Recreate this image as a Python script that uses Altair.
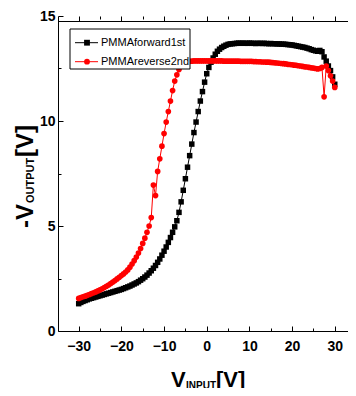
import altair as alt
import pandas as pd

# ---------------- data ----------------
x_v = [-30.0, -29.5, -29.0, -28.5, -28.0, -27.5, -27.0, -26.5, -26.0, -25.5,
       -25.0, -24.5, -24.0, -23.5, -23.0, -22.5, -22.0, -21.5, -21.0, -20.5,
       -20.0, -19.5, -19.0, -18.5, -18.0, -17.5, -17.0, -16.5, -16.0, -15.5,
       -15.0, -14.5, -14.0, -13.5, -13.0, -12.5, -12.0, -11.5, -11.0, -10.5,
       -10.0, -9.5, -9.0, -8.5, -8.0, -7.5, -7.0, -6.5, -6.0, -5.5,
       -5.0, -4.5, -4.0, -3.5, -3.0, -2.5, -2.0, -1.5, -1.0, -0.5,
       0.0, 0.5, 1.0, 1.5, 2.0, 2.5, 3.0, 3.5, 4.0, 4.5,
       5.0, 5.5, 6.0, 6.5, 7.0, 7.5, 8.0, 8.5, 9.0, 9.5,
       10.0, 10.5, 11.0, 11.5, 12.0, 12.5, 13.0, 13.5, 14.0, 14.5,
       15.0, 15.5, 16.0, 16.5, 17.0, 17.5, 18.0, 18.5, 19.0, 19.5,
       20.0, 20.5, 21.0, 21.5, 22.0, 22.5, 23.0, 23.5, 24.0, 24.5,
       25.0, 25.5, 26.0, 26.5, 27.0, 27.5, 28.0, 28.5, 29.0, 29.5,
       30.0]

forward_1st = [1.30, 1.36, 1.41, 1.45, 1.49, 1.53, 1.56, 1.59, 1.62, 1.65,
               1.68, 1.71, 1.74, 1.77, 1.80, 1.83, 1.86, 1.89, 1.92, 1.95,
               1.98, 2.02, 2.06, 2.10, 2.14, 2.19, 2.24, 2.29, 2.35, 2.42,
               2.49, 2.57, 2.66, 2.76, 2.87, 2.99, 3.12, 3.27, 3.43, 3.61,
               3.80, 4.00, 4.22, 4.45, 4.70, 4.96, 5.25, 5.65, 6.15, 6.70,
               7.25, 7.80, 8.35, 8.90, 9.45, 9.95, 10.45, 10.95, 11.40, 11.85,
               12.25, 12.55, 12.80, 13.00, 13.18, 13.32, 13.42, 13.50, 13.56, 13.61,
               13.65, 13.67, 13.68, 13.69, 13.70, 13.71, 13.70, 13.71, 13.70, 13.70,
               13.71, 13.70, 13.70, 13.69, 13.70, 13.70, 13.69, 13.70, 13.69, 13.68,
               13.69, 13.68, 13.68, 13.67, 13.67, 13.66, 13.66, 13.65, 13.64, 13.63,
               13.62, 13.60, 13.58, 13.56, 13.54, 13.52, 13.50, 13.47, 13.44, 13.40,
               13.37, 13.34, 13.32, 13.36, 13.30, 13.05, 12.85, 12.62, 12.40, 12.10,
               11.75]

reverse_2nd = [1.55, 1.59, 1.63, 1.66, 1.70, 1.74, 1.78, 1.82, 1.86, 1.91,
               1.96, 2.01, 2.07, 2.13, 2.19, 2.26, 2.33, 2.40, 2.48, 2.56,
               2.64, 2.72, 2.81, 2.91, 3.04, 3.19, 3.35, 3.52, 3.71, 3.93,
               4.17, 4.42, 4.70, 5.00, 5.40, 6.95, 6.45, 7.60, 8.20, 8.80,
               9.40, 9.95, 10.45, 10.95, 11.45, 11.90, 12.20, 12.45, 12.62, 12.72,
               12.78, 12.82, 12.84, 12.85, 12.86, 12.86, 12.86, 12.86, 12.86, 12.86,
               12.86, 12.86, 12.86, 12.86, 12.86, 12.86, 12.86, 12.86, 12.85, 12.85,
               12.85, 12.85, 12.85, 12.85, 12.85, 12.85, 12.84, 12.84, 12.84, 12.84,
               12.84, 12.84, 12.83, 12.83, 12.82, 12.82, 12.81, 12.81, 12.80, 12.80,
               12.79, 12.78, 12.77, 12.76, 12.75, 12.74, 12.73, 12.72, 12.70, 12.69,
               12.68, 12.66, 12.65, 12.63, 12.62, 12.60, 12.58, 12.57, 12.55, 12.53,
               12.52, 12.50, 12.48, 12.50, 12.55, 11.15, 12.62, 12.40, 12.15, 11.90,
               11.60]

series_names = ["PMMAforward1st", "PMMAreverse2nd"]
series_colors = ["#000000", "#ff0000"]

x_major = [-30, -20, -10, 0, 10, 20, 30]
x_minor = [-25, -15, -5, 5, 15, 25]
y_major = [0, 5, 10, 15]
y_minor = [2.5, 7.5, 12.5]

x_title = ["V", "INPUT", "[V]"]
y_title = ["-V", "OUTPUT", "[V]"]

# ---------------- chart ----------------
FONT = "Liberation Sans, Arial, Helvetica, sans-serif"

df_f = pd.DataFrame({"x": x_v, "y": forward_1st})
df_r = pd.DataFrame({"x": x_v, "y": reverse_2nd})
one = pd.DataFrame({"k": [0]})

xs = alt.Scale(domain=[-34.85, 33.1], nice=False, zero=False)
ys = alt.Scale(domain=[0, 15], nice=False, zero=False)


def tick_axis(orient, values, size, domain=False, color="black"):
    return alt.Axis(orient=orient, values=values, labels=False, domain=domain,
                    domainColor=color, ticks=True, tickSize=size, offset=-size,
                    tickColor="black", tickWidth=1, grid=False, title=None)


label_x = alt.Axis(orient="bottom", values=x_major, format="d", labels=True,
                   ticks=False, tickSize=0, domain=True, domainColor="black",
                   domainWidth=1, labelFont=FONT, labelFontSize=14,
                   labelFontWeight="bold", labelColor="black", labelPadding=8,
                   grid=False, title=None)
label_y = alt.Axis(orient="left", values=y_major, format="d", labels=True,
                   ticks=False, tickSize=0, domain=True, domainColor="black",
                   domainWidth=1, labelFont=FONT, labelFontSize=14,
                   labelFontWeight="bold", labelColor="black", labelPadding=3,
                   grid=False, title=None)

f_line = alt.Chart(df_f).mark_line(color=series_colors[0], strokeWidth=1).encode(
    x=alt.X("x:Q", scale=xs, axis=label_x),
    y=alt.Y("y:Q", scale=ys, axis=label_y),
)
f_pts = alt.Chart(df_f).mark_point(shape="square", filled=True, size=30,
                                   color=series_colors[0], opacity=1).encode(
    x=alt.X("x:Q", scale=xs, axis=tick_axis("bottom", x_major, 5)),
    y=alt.Y("y:Q", scale=ys, axis=tick_axis("left", y_major, 5)),
)
r_line = alt.Chart(df_r).mark_line(color=series_colors[1], strokeWidth=1).encode(
    x=alt.X("x:Q", scale=xs, axis=tick_axis("bottom", x_minor, 3)),
    y=alt.Y("y:Q", scale=ys, axis=tick_axis("left", y_minor, 3)),
)
r_pts = alt.Chart(df_r).mark_point(shape="circle", filled=True, size=32,
                                   color=series_colors[1], opacity=1).encode(
    x=alt.X("x:Q", scale=xs, axis=tick_axis("top", x_major, 5, domain=True)),
    y=alt.Y("y:Q", scale=ys, axis=alt.Axis(orient="right", labels=False, ticks=False,
                                            domain=True, domainColor="#b8b8b8",
                                            grid=False, title=None)),
)
frame_extra = alt.Chart(df_r).mark_point(opacity=0).encode(
    x=alt.X("x:Q", scale=xs, axis=tick_axis("top", x_minor, 3)),
    y=alt.Y("y:Q", scale=ys, axis=None),
)

# ---- legend (drawn by hand) ----
leg_box = alt.Chart(one).mark_rect(fill="white", stroke="black", strokeWidth=1).encode(
    x=alt.value(12), x2=alt.value(132), y=alt.value(13), y2=alt.value(53))
leg_layers = [leg_box]
for i, (name, col, shp) in enumerate(zip(series_names, series_colors, ["square", "circle"])):
    yy = 26.7 + i * 19
    leg_layers.append(alt.Chart(one).mark_rule(color=col, strokeWidth=1).encode(
        x=alt.value(17), x2=alt.value(40), y=alt.value(yy), y2=alt.value(yy)))
    leg_layers.append(alt.Chart(one).mark_point(shape=shp, filled=True, size=34,
                                                color=col, opacity=1).encode(
        x=alt.value(29), y=alt.value(yy)))
    leg_layers.append(alt.Chart(pd.DataFrame({"t": [name]})).mark_text(
        align="left", baseline="middle", font=FONT, fontSize=11, color="black").encode(
        x=alt.value(43), y=alt.value(yy + 0.5), text="t:N"))

# ---- axis titles with subscripts ----
def piece(txt, x, y, size, angle=0):
    return alt.Chart(pd.DataFrame({"t": [txt]})).mark_text(
        align="left", baseline="alphabetic", font=FONT, fontSize=size,
        fontWeight="bold", color="black", angle=angle).encode(
        x=alt.value(x), y=alt.value(y), text="t:N")

titles = [
    piece(x_title[0], 113, 371, 22),
    piece(x_title[1], 128, 373, 10),
    piece(x_title[2], 158, 371, 22),
    piece(y_title[0], -25, 212, 24, 270),
    piece(y_title[1], -24, 187, 11, 270),
    piece(y_title[2], -25, 141, 24, 270),
]

chart = alt.layer(f_line, f_pts, r_line, r_pts, frame_extra, *leg_layers, *titles).resolve_axis(
    x="independent", y="independent"
).properties(
    width=290, height=315,
    autosize=alt.AutoSizeParams(type="none"),
    padding={"left": 50, "top": 8, "right": 0, "bottom": 57},
    background="white",
).configure_view(stroke=None)

chart.save("out.html", embed_options={"renderer": "svg", "actions": False})
